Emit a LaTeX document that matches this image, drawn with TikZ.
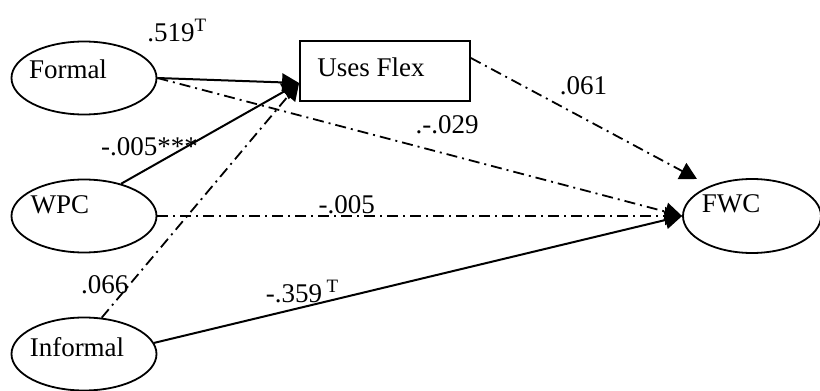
\documentclass[tikz,border=0pt]{standalone}
\usepackage{fontspec}
\setmainfont{Liberation Serif}
\usetikzlibrary{shapes,arrows.meta,positioning}

\tikzset{
  var/.style={draw, ellipse, line width=0.9pt, minimum width=72.5pt, minimum height=36.5pt, inner sep=0pt},
  obs/.style={draw, rectangle, line width=0.9pt, minimum width=85pt, minimum height=30pt, inner sep=0pt},
  sig/.style={-{Triangle[length=8.5pt,width=9pt]}, line width=1pt},
  nsig/.style={sig, line width=0.9pt, dash pattern=on 5.5pt off 2.5pt on 1pt off 2.5pt},
}

\begin{document}
\begin{tikzpicture}[x=0.5pt, y=-0.5pt, node distance=69pt, font=\fontsize{13.5}{16}\selectfont]
  \useasboundingbox (0,0) rectangle (820,391);

  % predictors
  \node (formal) [var, label={[xshift=-8pt, yshift=4.5pt]center:Formal}] at (84,78) {};

  \node (wpc) [var, below of=formal, label={[xshift=-12pt, yshift=5.5pt]center:WPC}] {};

  \node (informal) [var, below of=wpc, label={[xshift=-3.5pt, yshift=3.5pt]center:Informal}] {};

  %%%%%%%%%%%%%%%%%%
  \node (flex) [obs, right of=formal, node distance=150.5pt, yshift=3.5pt,
                label={[xshift=-7pt, yshift=2pt]center:Uses Flex}] {};

  \node (fwc) [var, right of=wpc, node distance=334pt, minimum width=69pt, minimum height=37pt,
               label={[xshift=-10.5pt, yshift=6pt]center:FWC}] {};

  %%%%%%%%%%%%%%%%%
  \coordinate (flexin) at ([yshift=-6pt]flex.west);
  \coordinate (flexout) at ([yshift=6.5pt]flex.east);
  \coordinate (fwctop) at ([shift={(-27.5pt,18.5pt)}]fwc.center);

  %%%%%%%%%%%%%%%%%%%%
  %%%%%%%%%%%%%%%%%%%%
  \draw [sig] (formal.east) -- node[pos=0.14, yshift=24pt]{.519\textsuperscript{T}} (flexin);
  \draw [sig] (wpc.41) -- node[pos=0.16, yshift=10.5pt]{-.005***} (flexin);
  \draw [nsig] (informal.64) -- node[pos=0.142, xshift=-12.5pt]{.066} (flexin);

  \draw [nsig] (formal.east) -- node[pos=0.552, yshift=14.5pt]{.-.029} (fwc.west);
  \draw [nsig] (wpc.east) -- node[pos=0.361, yshift=5.5pt]{-.005} (fwc.west);
  \draw [sig] (informal.9) -- node[pos=0.281, yshift=8pt]{-.359\,\textsuperscript{T}} (fwc.west);

  \draw [nsig] (flexout) -- node[pos=0.498, yshift=16.5pt]{.061} (fwctop);

\end{tikzpicture}
\end{document}
